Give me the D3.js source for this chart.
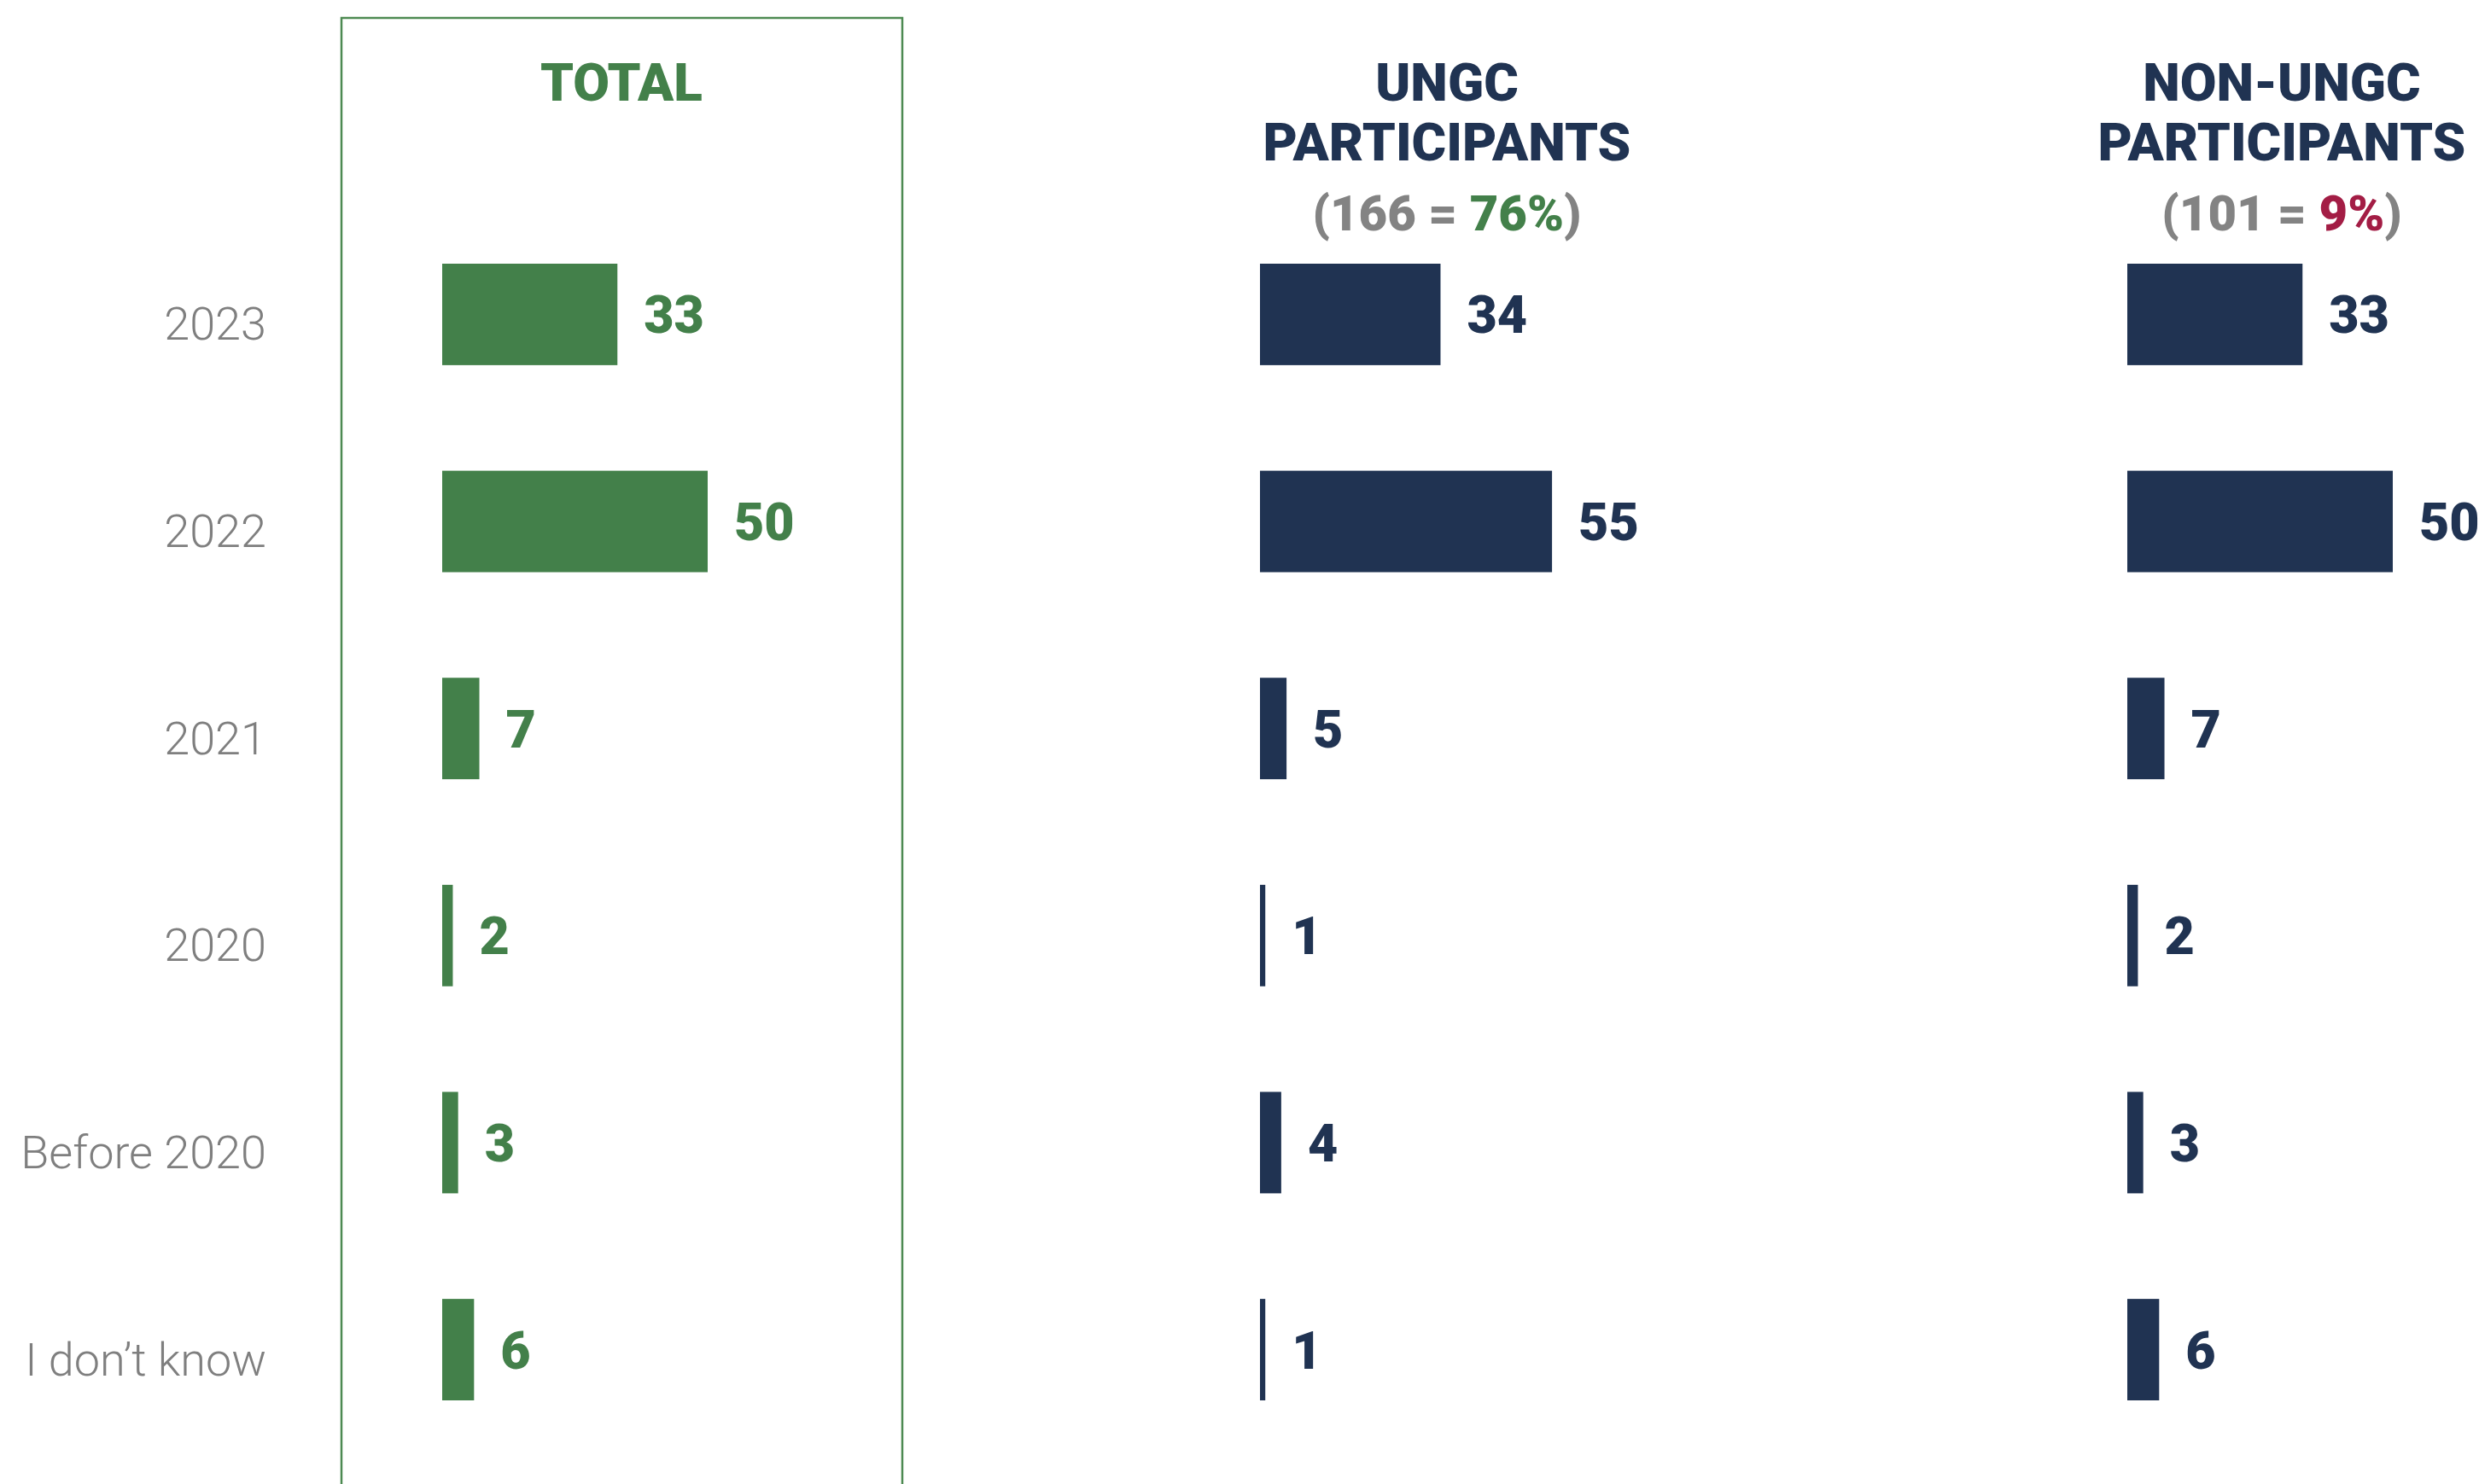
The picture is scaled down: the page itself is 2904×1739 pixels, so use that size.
<!DOCTYPE html>
<html>
<head>
<meta charset="utf-8">
<script src="https://cdn.jsdelivr.net/npm/d3@7"></script>
<style>
  html, body { margin: 0; padding: 0; background: #ffffff; }
  svg { display: block; }
</style>
</head>
<body>
<script>
// ---- Data ----
const categories = ["2023", "2022", "2021", "2020", "Before 2020", "I don\u2019t know"];
const totalValues = [33, 50, 7, 2, 3, 6];
const ungcValues = [34, 55, 5, 1, 4, 1];
const nonUngcValues = [33, 50, 7, 2, 3, 6];
const panelTitles = [["TOTAL"], ["UNGC", "PARTICIPANTS"], ["NON-UNGC", "PARTICIPANTS"]];
const panelBase = [null, "166", "101"];
const panelShare = [null, "76%", "9%"];

// ---- Layout ----
const W = 2904, H = 1739;
const GREEN = "#43804a", NAVY = "#203352", GRAY = "#838383", RED = "#a31d45";
const svg = d3.select("body").append("svg").attr("width", W).attr("height", H);

const y = d3.scaleBand().domain(categories).range([309, 1641]).paddingInner(0.51).paddingOuter(0);
const x = d3.scaleLinear().domain([0, 50]).range([0, 311]);

// Total box
svg.append("rect")
  .attr("x", 400).attr("y", 21).attr("width", 657).attr("height", H + 20)
  .attr("fill", "none").attr("stroke", "#4d8a52").attr("stroke-width", 2.5);

// Category labels
svg.append("g").selectAll("text").data(categories).join("text")
  .attr("x", 312)
  .attr("y", d => y(d) + y.bandwidth() / 2 + 30)
  .attr("text-anchor", "end")
  .attr("font-family", "Roboto, sans-serif")
  .attr("font-weight", 300)
  .attr("font-size", 54)
  .attr("fill", "#7f7f7f")
  .text(d => d);

const panels = [
  { values: totalValues, x0: 518, cx: 728, color: GREEN, titleColor: GREEN, shareColor: null },
  { values: ungcValues, x0: 1476, cx: 1695, color: NAVY, titleColor: NAVY, shareColor: GREEN },
  { values: nonUngcValues, x0: 2492, cx: 2673, color: NAVY, titleColor: NAVY, shareColor: RED }
];

panels.forEach((p, i) => {
  const g = svg.append("g").attr("transform", `translate(${p.x0},0)`);
  g.selectAll("rect").data(p.values).join("rect")
    .attr("x", 0)
    .attr("y", (d, j) => y(categories[j]))
    .attr("width", d => x(d))
    .attr("height", y.bandwidth())
    .attr("fill", p.color);
  g.selectAll("text.val").data(p.values).join("text")
    .attr("class", "val")
    .attr("x", d => x(d) + 31)
    .attr("y", (d, j) => y(categories[j]) + y.bandwidth() / 2 + 22)
    .attr("font-family", "Roboto, sans-serif")
    .attr("font-weight", 900)
    .attr("font-size", 61)
    .attr("fill", p.color)
    .text(d => d);

  // Titles
  panelTitles[i].forEach((line, k) => {
    svg.append("text")
      .attr("x", p.cx).attr("y", 118 + k * 70)
      .attr("text-anchor", "middle")
      .attr("font-family", "Roboto, sans-serif")
      .attr("font-weight", 900)
      .attr("font-size", 62)
      .attr("fill", p.titleColor)
      .text(line);
  });
  if (panelBase[i]) {
    const t = svg.append("text")
      .attr("x", p.cx).attr("y", 270)
      .attr("text-anchor", "middle")
      .attr("font-family", "Roboto, sans-serif")
      .attr("font-weight", 900)
      .attr("font-size", 58)
      .attr("fill", GRAY);
    t.append("tspan").text("(" + panelBase[i] + " = ");
    t.append("tspan").attr("fill", p.shareColor).text(panelShare[i]);
    t.append("tspan").text(")");
  }
});
</script>
</body>
</html>
